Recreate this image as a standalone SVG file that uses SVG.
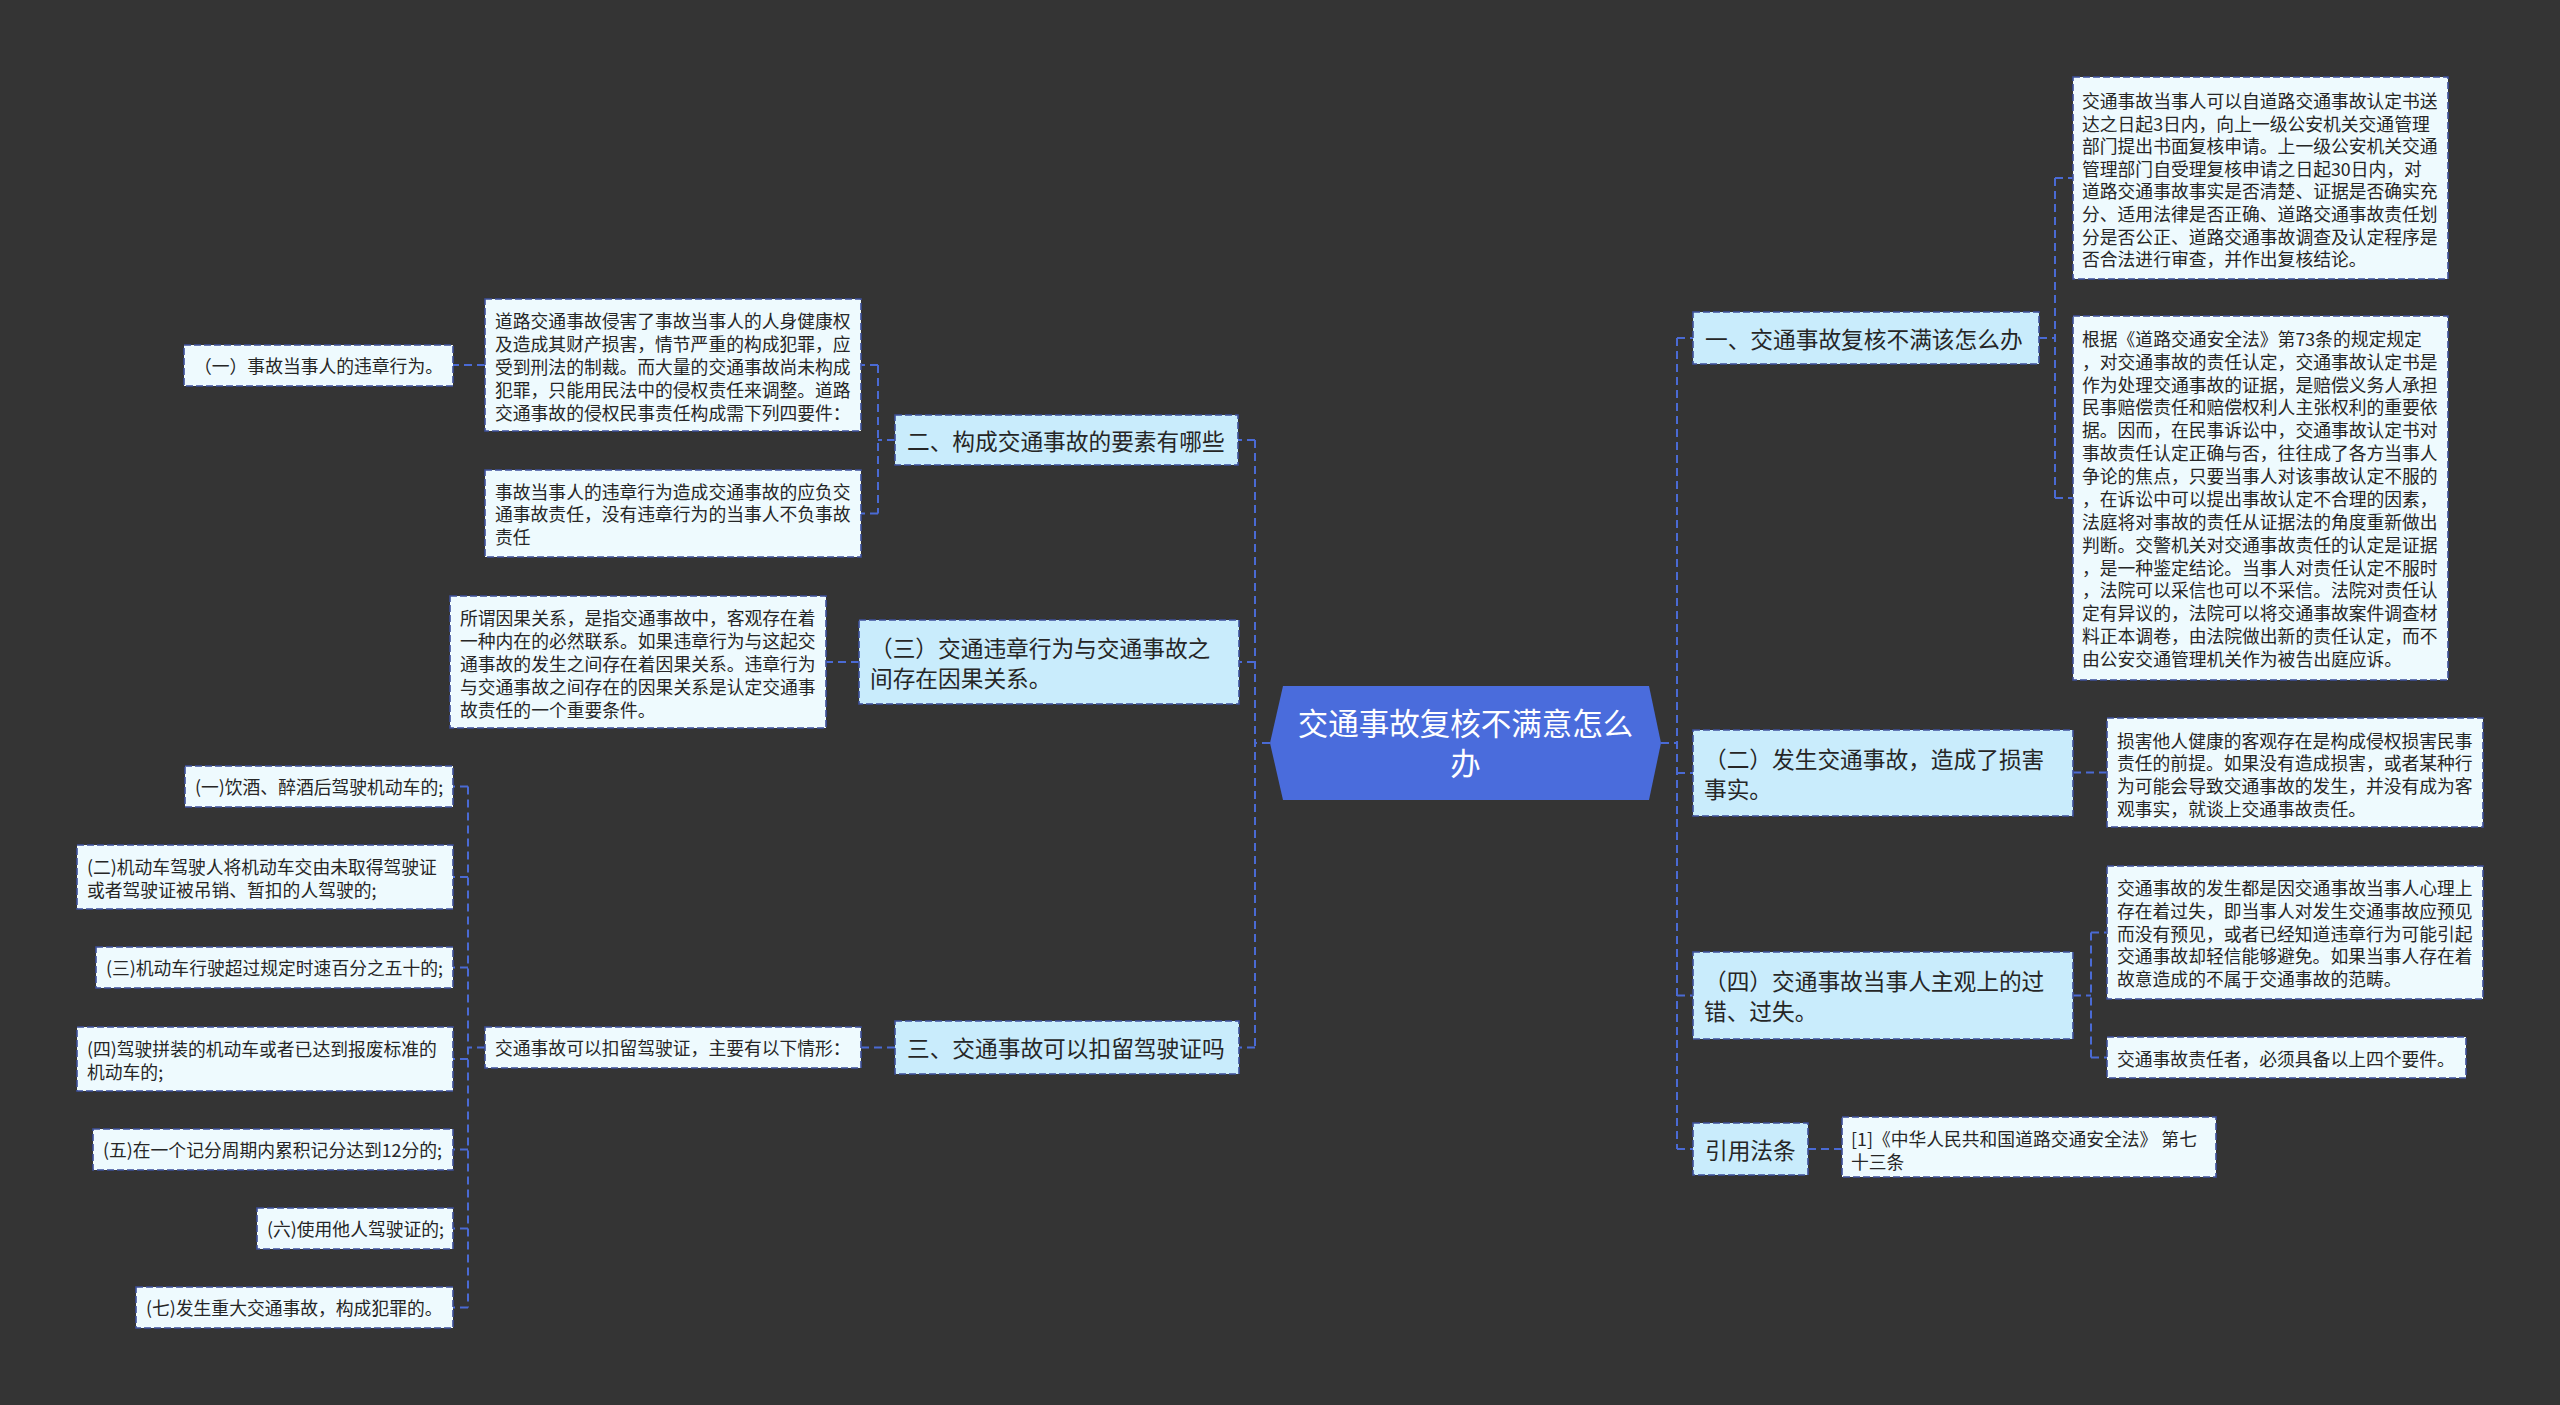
<svg xmlns="http://www.w3.org/2000/svg" width="2560" height="1405" viewBox="0 0 2560 1405">
<style>
text{font-family:"Noto Sans CJK SC","Microsoft YaHei",sans-serif;fill:#262626;transform:translateY(1.5px)}
.lf rect{fill:#eefafe;stroke:#3c4f9a;stroke-width:1.6;stroke-dasharray:7 3}
.br rect{fill:#c9ecfc;stroke:#3c4f9a;stroke-width:1.6;stroke-dasharray:7 3}
.lf text{font-size:17.8px}
.br text{font-size:22.7px}
.c text{font-size:30.5px;fill:#ffffff}
#connectors path{fill:none;stroke:#4a6ad4;stroke-width:2;stroke-dasharray:8 5}
</style>
<rect width="2560" height="1405" fill="#343434"/>
<g id="connectors">
<path d="M1270,743H1255M1255,440V1047.5M1255,440H1238M1255,662H1239M1255,1047.5H1239"/>
<path d="M895,440H878M878,365V513.5M878,365H861M878,513.5H861"/>
<path d="M485,365H453"/>
<path d="M859,662H826"/>
<path d="M895,1047.5H861"/>
<path d="M485,1047.5H468M468,786.5V1307.5M468,786.5H453M468,877H453M468,967.5H453M468,1059H453M468,1149.5H453M468,1228.5H453M468,1307.5H453"/>
<path d="M1661,743H1677M1677,338V1149M1677,338H1693M1677,773H1693M1677,995.5H1693M1677,1149H1693"/>
<path d="M2039,338H2055M2055,178V498M2055,178H2073M2055,498H2073"/>
<path d="M2073,772.5H2107"/>
<path d="M2073,995.5H2091M2091,932.5V1057.5M2091,932.5H2107M2091,1057.5H2107"/>
<path d="M1808,1149H1842"/>
</g>
<g id="center" class="c">
<polygon points="1283,686 1649,686 1661,743 1649,800 1283,800 1270,743" fill="#4a6cdc"/>
<text x="1465.5" y="733" text-anchor="middle">交通事故复核不满意怎么</text>
<text x="1465.5" y="773" text-anchor="middle">办</text>
</g>
<g id="b1" class="br">
<rect x="1693" y="312" width="346" height="52"/>
<text x="1705" y="346.2">一、交通事故复核不满该怎么办</text>
</g>
<g id="b1a" class="lf">
<rect x="2073" y="77" width="375" height="202"/>
<text x="2082" y="106.4"><tspan x="2082">交通事故当事人可以自道路交通事故认定书送</tspan><tspan x="2082" dy="22.6">达之日起3日内，向上一级公安机关交通管理</tspan><tspan x="2082" dy="22.6">部门提出书面复核申请。上一级公安机关交通</tspan><tspan x="2082" dy="22.6">管理部门自受理复核申请之日起30日内，对</tspan><tspan x="2082" dy="22.6">道路交通事故事实是否清楚、证据是否确实充</tspan><tspan x="2082" dy="22.6">分、适用法律是否正确、道路交通事故责任划</tspan><tspan x="2082" dy="22.6">分是否公正、道路交通事故调查及认定程序是</tspan><tspan x="2082" dy="22.6">否合法进行审查，并作出复核结论。</tspan></text>
</g>
<g id="b1b" class="lf">
<rect x="2073" y="316" width="375" height="364"/>
<text x="2082" y="344.4"><tspan x="2082">根据《道路交通安全法》第73条的规定规定</tspan><tspan x="2082" dy="22.86">，对交通事故的责任认定，交通事故认定书是</tspan><tspan x="2082" dy="22.86">作为处理交通事故的证据，是赔偿义务人承担</tspan><tspan x="2082" dy="22.86">民事赔偿责任和赔偿权利人主张权利的重要依</tspan><tspan x="2082" dy="22.86">据。因而，在民事诉讼中，交通事故认定书对</tspan><tspan x="2082" dy="22.86">事故责任认定正确与否，往往成了各方当事人</tspan><tspan x="2082" dy="22.86">争论的焦点，只要当事人对该事故认定不服的</tspan><tspan x="2082" dy="22.86">，在诉讼中可以提出事故认定不合理的因素，</tspan><tspan x="2082" dy="22.86">法庭将对事故的责任从证据法的角度重新做出</tspan><tspan x="2082" dy="22.86">判断。交警机关对交通事故责任的认定是证据</tspan><tspan x="2082" dy="22.86">，是一种鉴定结论。当事人对责任认定不服时</tspan><tspan x="2082" dy="22.86">，法院可以采信也可以不采信。法院对责任认</tspan><tspan x="2082" dy="22.86">定有异议的，法院可以将交通事故案件调查材</tspan><tspan x="2082" dy="22.86">料正本调卷，由法院做出新的责任认定，而不</tspan><tspan x="2082" dy="22.86">由公安交通管理机关作为被告出庭应诉。</tspan></text>
</g>
<g id="b2" class="br">
<rect x="1693" y="730" width="380" height="86"/>
<text x="1704" y="766.2"><tspan x="1704">（二）发生交通事故，造成了损害</tspan><tspan x="1704" dy="30">事实。</tspan></text>
</g>
<g id="b2a" class="lf">
<rect x="2107" y="718" width="376" height="109"/>
<text x="2117" y="746"><tspan x="2117">损害他人健康的客观存在是构成侵权损害民事</tspan><tspan x="2117" dy="22.8">责任的前提。如果没有造成损害，或者某种行</tspan><tspan x="2117" dy="22.8">为可能会导致交通事故的发生，并没有成为客</tspan><tspan x="2117" dy="22.8">观事实，就谈上交通事故责任。</tspan></text>
</g>
<g id="b4" class="br">
<rect x="1693" y="952" width="380" height="87"/>
<text x="1704" y="988.7"><tspan x="1704">（四）交通事故当事人主观上的过</tspan><tspan x="1704" dy="30">错、过失。</tspan></text>
</g>
<g id="b4a" class="lf">
<rect x="2107" y="866" width="376" height="133"/>
<text x="2117" y="893.4"><tspan x="2117">交通事故的发生都是因交通事故当事人心理上</tspan><tspan x="2117" dy="22.8">存在着过失，即当事人对发生交通事故应预见</tspan><tspan x="2117" dy="22.8">而没有预见，或者已经知道违章行为可能引起</tspan><tspan x="2117" dy="22.8">交通事故却轻信能够避免。如果当事人存在着</tspan><tspan x="2117" dy="22.8">故意造成的不属于交通事故的范畴。</tspan></text>
</g>
<g id="b4b" class="lf">
<rect x="2107" y="1037" width="359" height="41"/>
<text x="2117" y="1064">交通事故责任者，必须具备以上四个要件。</text>
</g>
<g id="b5" class="br">
<rect x="1693" y="1123" width="115" height="52"/>
<text x="1705" y="1157">引用法条</text>
</g>
<g id="b5a" class="lf">
<rect x="1842" y="1117" width="374" height="60"/>
<text x="1851" y="1144.4"><tspan x="1851">[1]《中华人民共和国道路交通安全法》 第七</tspan><tspan x="1851" dy="22.8">十三条</tspan></text>
</g>
<g id="l1" class="br">
<rect x="895" y="415" width="343" height="50"/>
<text x="907" y="448.2">二、构成交通事故的要素有哪些</text>
</g>
<g id="l1a" class="lf">
<rect x="485" y="299" width="376" height="132"/>
<text x="495" y="326.9"><tspan x="495">道路交通事故侵害了事故当事人的人身健康权</tspan><tspan x="495" dy="22.8">及造成其财产损害，情节严重的构成犯罪，应</tspan><tspan x="495" dy="22.8">受到刑法的制裁。而大量的交通事故尚未构成</tspan><tspan x="495" dy="22.8">犯罪，只能用民法中的侵权责任来调整。道路</tspan><tspan x="495" dy="22.8">交通事故的侵权民事责任构成需下列四要件：</tspan></text>
</g>
<g id="l1a1" class="lf">
<rect x="184" y="345" width="269" height="41"/>
<text x="194" y="371.9">（一）事故当事人的违章行为。</text>
</g>
<g id="l1b" class="lf">
<rect x="485" y="470" width="376" height="87"/>
<text x="495" y="497.1"><tspan x="495">事故当事人的违章行为造成交通事故的应负交</tspan><tspan x="495" dy="22.8">通事故责任，没有违章行为的当事人不负事故</tspan><tspan x="495" dy="22.8">责任</tspan></text>
</g>
<g id="l2" class="br">
<rect x="859" y="620" width="380" height="84"/>
<text x="870" y="655.2"><tspan x="870">（三）交通违章行为与交通事故之</tspan><tspan x="870" dy="30">间存在因果关系。</tspan></text>
</g>
<g id="l2a" class="lf">
<rect x="450" y="596" width="376" height="132"/>
<text x="460" y="623.8"><tspan x="460">所谓因果关系，是指交通事故中，客观存在着</tspan><tspan x="460" dy="22.8">一种内在的必然联系。如果违章行为与这起交</tspan><tspan x="460" dy="22.8">通事故的发生之间存在着因果关系。违章行为</tspan><tspan x="460" dy="22.8">与交通事故之间存在的因果关系是认定交通事</tspan><tspan x="460" dy="22.8">故责任的一个重要条件。</tspan></text>
</g>
<g id="l3" class="br">
<rect x="895" y="1021" width="344" height="53"/>
<text x="907" y="1055.7">三、交通事故可以扣留驾驶证吗</text>
</g>
<g id="l3a" class="lf">
<rect x="485" y="1027" width="376" height="41"/>
<text x="495" y="1053.9">交通事故可以扣留驾驶证，主要有以下情形：</text>
</g>
<g id="li1" class="lf">
<rect x="185" y="766" width="268" height="41"/>
<text x="195" y="792.9">(一)饮酒、醉酒后驾驶机动车的;</text>
</g>
<g id="li2" class="lf">
<rect x="77" y="845" width="376" height="64"/>
<text x="87" y="872.4"><tspan x="87">(二)机动车驾驶人将机动车交由未取得驾驶证</tspan><tspan x="87" dy="22.8">或者驾驶证被吊销、暂扣的人驾驶的;</tspan></text>
</g>
<g id="li3" class="lf">
<rect x="96" y="947" width="357" height="41"/>
<text x="106" y="973.9">(三)机动车行驶超过规定时速百分之五十的;</text>
</g>
<g id="li4" class="lf">
<rect x="77" y="1027" width="376" height="64"/>
<text x="87" y="1054.4"><tspan x="87">(四)驾驶拼装的机动车或者已达到报废标准的</tspan><tspan x="87" dy="22.8">机动车的;</tspan></text>
</g>
<g id="li5" class="lf">
<rect x="93" y="1129" width="360" height="41"/>
<text x="103" y="1155.9">(五)在一个记分周期内累积记分达到12分的;</text>
</g>
<g id="li6" class="lf">
<rect x="257" y="1208" width="196" height="41"/>
<text x="267" y="1234.9">(六)使用他人驾驶证的;</text>
</g>
<g id="li7" class="lf">
<rect x="136" y="1287" width="317" height="41"/>
<text x="146" y="1313.9">(七)发生重大交通事故，构成犯罪的。</text>
</g>
</svg>
